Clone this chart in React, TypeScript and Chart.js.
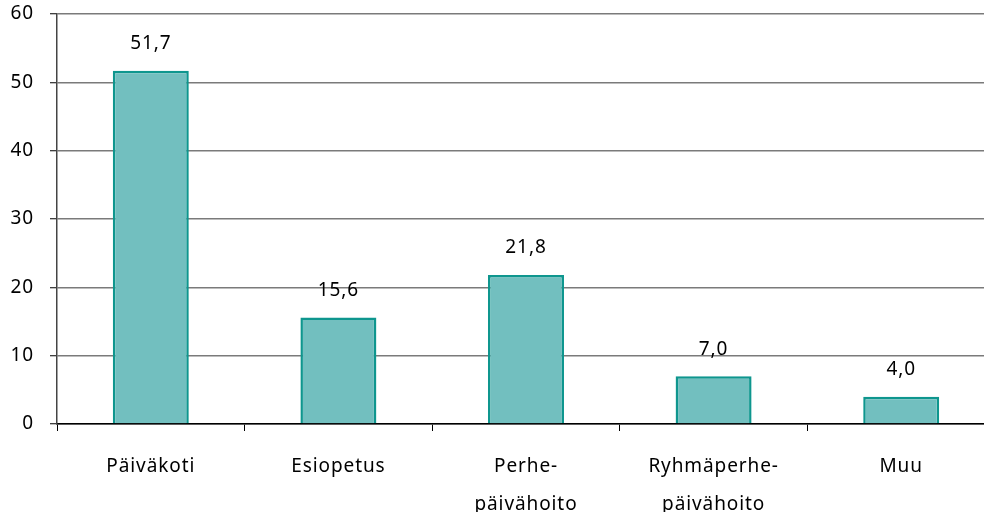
import React, { useEffect, useRef } from "react";
import { Chart, registerables } from "chart.js";

Chart.register(...registerables);

const categories: (string | string[])[] = [
  "Päiväkoti",
  "Esiopetus",
  ["Perhe-", "päivähoito"],
  ["Ryhmäperhe-", "päivähoito"],
  "Muu",
];
const values = [51.7, 15.6, 21.8, 7.0, 4.0];
const yTicks = [0, 10, 20, 30, 40, 50, 60];

const FONT = "'Noto Sans', 'Open Sans', sans-serif";
const SPACING = "0.9px";

const valueLabels = {
  id: "valueLabels",
  afterDatasetsDraw(chart: any) {
    const ctx = chart.ctx;
    const meta = chart.getDatasetMeta(0);
    ctx.save();
    ctx.font = `19px ${FONT}`;
    (ctx as any).letterSpacing = SPACING;
    ctx.fillStyle = "#000";
    ctx.textAlign = "center";
    ctx.textBaseline = "middle";
    meta.data.forEach((bar: any, i: number) => {
      const txt = values[i].toFixed(1).replace(".", ",");
      ctx.fillText(txt, bar.x, bar.y - 27);
    });
    ctx.restore();
  },
};

const spacing = {
  id: "spacing",
  beforeDraw(chart: any) {
    (chart.ctx as any).letterSpacing = SPACING;
  },
};

export default function App() {
  const ref = useRef<HTMLCanvasElement | null>(null);
  useEffect(() => {
    if (!ref.current) return;
    const chart = new Chart(ref.current, {
      type: "bar",
      data: {
        labels: categories,
        datasets: [
          {
            data: values,
            backgroundColor: "#72BFBF",
            borderColor: "#0E968E",
            borderWidth: 2.5,
            barPercentage: 0.405,
            categoryPercentage: 1,
          },
        ],
      },
      plugins: [spacing, valueLabels],
      options: {
        animation: false,
        responsive: false,
        maintainAspectRatio: false,
        layout: { padding: { top: 14, right: 5, left: 0, bottom: 0 } },
        plugins: { legend: { display: false }, tooltip: { enabled: false } },
        scales: {
          x: {
            grid: {
              offset: true,
              drawOnChartArea: false,
              drawTicks: true,
              tickLength: 7,
              tickColor: "#000",
              tickWidth: 1,
            },
            border: { color: "#000", width: 1.5 },
            ticks: {
              color: "#000",
              padding: 17,
              maxRotation: 0,
              autoSkip: false,
              font: { family: FONT, size: 19, lineHeight: 2.0 },
            },
            afterFit(scale: any) {
              scale.height = 88;
              scale.paddingLeft = 0;
              scale.paddingRight = 0;
            },
          },
          y: {
            min: 0,
            max: 60,
            afterBuildTicks(scale: any) {
              scale.ticks = yTicks.map((v) => ({ value: v }));
            },
            grid: {
              color: "#7a7a7a",
              lineWidth: 1.5,
              tickLength: 7,
              tickColor: "#000",
              tickWidth: 1,
            },
            border: { color: "#444", width: 1.5 },
            ticks: {
              color: "#000",
              padding: 16,
              font: { family: FONT, size: 19 },
            },
            afterFit(scale: any) {
              scale.width = 57;
              scale.paddingTop = 0;
              scale.paddingBottom = 0;
            },
          },
        },
      },
    });
    return () => chart.destroy();
  }, []);
  return (
    <div
      style={{
        position: "fixed",
        left: 0,
        top: 0,
        width: 984,
        height: 512,
        overflow: "hidden",
        background: "#fff",
      }}
    >
      <canvas ref={ref} width={1000} height={512} style={{ display: "block", width: 1000, height: 512 }} />
    </div>
  );
}
